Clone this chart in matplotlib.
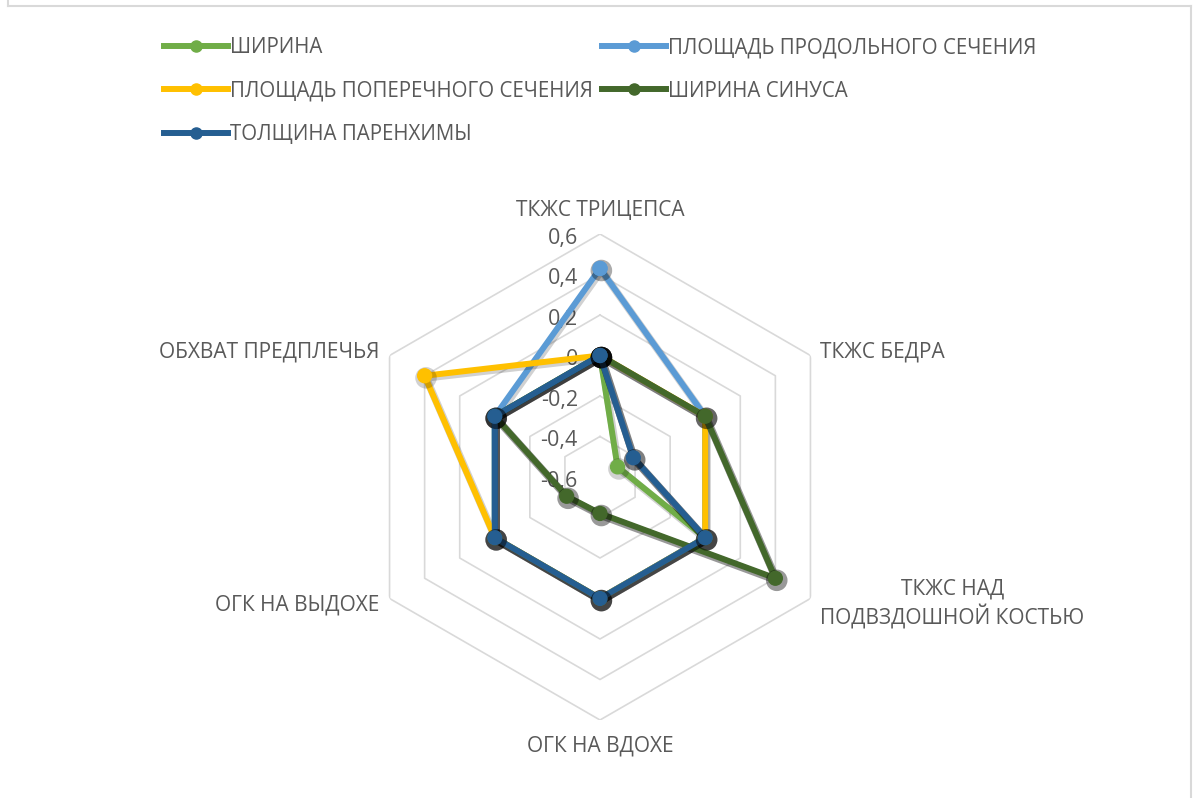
import numpy as np
import matplotlib
matplotlib.use("Agg")
import matplotlib.pyplot as plt
import matplotlib.patheffects as pe
from matplotlib.lines import Line2D

categories = ["ТКЖС ТРИЦЕПСА", "ТКЖС БЕДРА", "ТКЖС НАД\nПОДВЗДОШНОЙ КОСТЬЮ",
              "ОГК НА ВДОХЕ", "ОГК НА ВЫДОХЕ", "ОБХВАТ ПРЕДПЛЕЧЬЯ"]
series_names = ["ШИРИНА", "ПЛОЩАДЬ ПРОДОЛЬНОГО СЕЧЕНИЯ", "ПЛОЩАДЬ ПОПЕРЕЧНОГО СЕЧЕНИЯ",
                "ШИРИНА СИНУСА", "ТОЛЩИНА ПАРЕНХИМЫ"]
shirina = [0, -0.5, 0, 0, 0, 0]
pl_prod = [0.43, 0, 0, 0, 0, 0]
pl_poper = [0, 0, 0, 0, 0, 0.4]
shir_sinus = [0, 0, 0.4, -0.42, -0.41, 0]
tolshchina = [0, -0.41, 0, 0, 0, 0]
r_ticks = [0.6, 0.4, 0.2, 0, -0.2, -0.4, -0.6]
r_tick_labels = ["0,6", "0,4", "0,2", "0", "-0,2", "-0,4", "-0,6"]

colors = ["#70AD47", "#5B9BD5", "#FFC000", "#43682B", "#255E91"]
values = [shirina, pl_prod, pl_poper, shir_sinus, tolshchina]
text_color = "#595959"
font = "Open Sans"

W, H = 1198, 798
fig = plt.figure(figsize=(W / 100, H / 100), dpi=100)

# outer chart border (left, top, right)
for xs, ys in [([8, 8], [0, 6]), ([8, 1191], [6, 6]), ([1191, 1191], [6, 798])]:
    fig.add_artist(Line2D([x / W for x in xs], [1 - y / H for y in ys],
                          color="#D9D9D9", linewidth=1.5))

cx, cy, rad = 600, 477, 243
ax = fig.add_axes([(cx - rad) / W, 1 - (cy + rad) / H, 2 * rad / W, 2 * rad / H],
                  projection="polar")
ax.set_theta_zero_location("N")
ax.set_theta_direction(-1)
ax.set_ylim(-0.6, 0.6)
ax.grid(False)
ax.spines["polar"].set_visible(False)
ax.set_xticks([])
ax.set_yticks([])
ax.patch.set_alpha(0)

n = len(categories)
angles = np.linspace(0, 2 * np.pi, n, endpoint=False)
ang_closed = np.append(angles, angles[0])

# hexagonal grid
for lvl in r_ticks[:-1]:
    ax.plot(ang_closed, [lvl] * (n + 1), color="#D9D9D9", linewidth=1.2, zorder=1)

# series (darker ones get a stronger shadow, like in Excel)
shadow_alpha = [0.18, 0.18, 0.18, 0.4, 0.5]
for name, vals, col, sa in zip(series_names, values, colors, shadow_alpha):
    v = vals + vals[:1]
    ax.plot(ang_closed, v, color=col, linewidth=4.3, marker="o", markersize=10,
            label=name, zorder=3, clip_on=False,
            path_effects=[pe.SimpleLineShadow(offset=(1, -1.5), shadow_color="black",
                                              alpha=sa, linewidth=5.5),
                          pe.Normal()])

# radial tick labels
for v, lab in zip(r_ticks, r_tick_labels):
    ax.annotate(lab, xy=(0, v), xytext=(-16, -3), textcoords="offset points",
                ha="right", va="center", fontsize=15.5, color=text_color,
                family=font, zorder=2)

# category labels
offsets = [(0, 17), (7, 2.5), (7, -4), (0, -19), (-7, -5), (-7, 2.5)]
aligns = [("center", "center"), ("left", "center"), ("left", "center"),
          ("center", "center"), ("right", "center"), ("right", "center")]
for a, lab, off, (ha, va) in zip(angles, categories, offsets, aligns):
    ax.annotate(lab, xy=(a, 0.6), xytext=off, textcoords="offset points",
                ha=ha, va=va, multialignment="center", fontsize=15,
                color=text_color, family=font, annotation_clip=False,
                linespacing=1.25)

handles, labels = ax.get_legend_handles_labels()
order = [0, 2, 4, 1, 3]
leg = fig.legend([handles[i] for i in order], [labels[i] for i in order],
                 loc="upper left", bbox_to_anchor=(164 / W, 1 - 37 / H), ncol=2,
                 frameon=False, borderpad=0, borderaxespad=0, handlelength=3.1,
                 handletextpad=0.1, columnspacing=0.45, labelspacing=1.1,
                 prop={"family": font, "size": 14.8})
for t in leg.get_texts():
    t.set_color(text_color)
for h in leg.legend_handles:
    h.set_path_effects([])
    h.set_markersize(8)

fig.savefig("out.png", dpi=100)
